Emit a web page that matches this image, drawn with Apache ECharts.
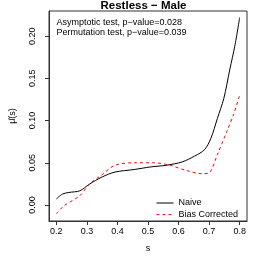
<!DOCTYPE html>
<html>
<head>
<meta charset="utf-8">
<script src="https://cdn.jsdelivr.net/npm/echarts@6/dist/echarts.min.js"></script>
<style>html,body{margin:0;padding:0;background:#fff}#c{width:258px;height:258px}</style>
</head>
<body>
<div id="c"></div>
<script>
var titleText = 'Restless \u2212 Male';
var notes = ['Asymptotic test, p\u2212value=0.028', 'Permutation test, p\u2212value=0.039'];
var xTicks = [0.2, 0.3, 0.4, 0.5, 0.6, 0.7, 0.8];
var yTicks = [0.00, 0.05, 0.10, 0.15, 0.20];
var naiveS = [0.200, 0.220, 0.241, 0.277, 0.308, 0.350, 0.392, 0.455, 0.507, 0.559, 0.612, 0.653, 0.685, 0.706, 0.727, 0.748, 0.768, 0.784, 0.800];
var naiveV = [0.007, 0.0129, 0.0148, 0.0168, 0.0246, 0.0332, 0.039, 0.042, 0.045, 0.047, 0.051, 0.058, 0.0655, 0.079, 0.1025, 0.126, 0.161, 0.188, 0.222];
var biasS = [0.200, 0.225, 0.277, 0.308, 0.350, 0.392, 0.455, 0.520, 0.572, 0.624, 0.677, 0.703, 0.727, 0.758, 0.779, 0.800];
var biasV = [-0.0105, -0.001, 0.011, 0.0246, 0.036, 0.047, 0.050, 0.050, 0.047, 0.041, 0.037, 0.039, 0.0596, 0.087, 0.106, 0.130];

function pairs(a, b) { return a.map(function (v, i) { return [v, b[i]]; }); }
var FONT = 'Liberation Sans';
var chart = echarts.init(document.getElementById('c'), null, {renderer: 'canvas'});
chart.setOption({
  animation: false,
  backgroundColor: '#fff',
  textStyle: {fontFamily: FONT},
  title: {
    text: titleText, left: 143.5, textAlign: 'center', top: 0, padding: 0,
    textStyle: {fontFamily: FONT, fontSize: 11.5, fontWeight: 'bold', color: '#000'}
  },
  grid: {left: 40.7, right: 11, top: 11, bottom: 34, show: true, borderColor: '#333', borderWidth: 1, backgroundColor: 'transparent'},
  xAxis: {
    type: 'value', min: 0.176, max: 0.824,
    name: 's', nameLocation: 'middle', nameGap: 23,
    nameTextStyle: {fontFamily: FONT, fontSize: 9, color: '#000'},
    axisLine: {show: true, onZero: false, lineStyle: {color: '#333', width: 1}},
    axisTick: {show: true, length: 4, customValues: xTicks, lineStyle: {color: '#333'}},
    axisLabel: {customValues: xTicks, margin: 6, fontFamily: FONT, fontSize: 9, color: '#000',
      formatter: function (v) { return v.toFixed(1); }},
    splitLine: {show: false}
  },
  yAxis: {
    type: 'value', min: -0.019, max: 0.2298,
    name: '\u03bc\u0302(s)', nameLocation: 'middle', nameGap: 32, nameRotate: 90,
    nameTextStyle: {fontFamily: FONT, fontSize: 9, color: '#000'},
    axisLine: {show: true, onZero: false, lineStyle: {color: '#333', width: 1}},
    axisTick: {show: true, length: 4, customValues: yTicks, lineStyle: {color: '#333'}},
    axisLabel: {customValues: yTicks, rotate: 90, margin: 12, fontFamily: FONT, fontSize: 9, color: '#000',
      formatter: function (v) { return v.toFixed(2); }},
    splitLine: {show: false}
  },
  legend: {
    orient: 'vertical', left: 156, top: 198.5, padding: 0, itemWidth: 17, itemHeight: 8, itemGap: 2.6,
    itemStyle: {opacity: 0, borderWidth: 0},
    lineStyle: {width: 1},
    textStyle: {fontFamily: FONT, fontSize: 9, color: '#000'},
    data: ['Naive', 'Bias Corrected']
  },
  graphic: [
    {type: 'text', left: 56.5, top: 18.5, style: {text: notes[0], fontFamily: FONT, fontSize: 9, fill: '#000'}},
    {type: 'text', left: 56.5, top: 28.5, style: {text: notes[1], fontFamily: FONT, fontSize: 9, fill: '#000'}}
  ],
  series: [
    {name: 'Naive', type: 'line', data: pairs(naiveS, naiveV), smooth: 0.3, symbol: 'none',
      lineStyle: {color: '#000', width: 1}, itemStyle: {color: '#000'}},
    {name: 'Bias Corrected', type: 'line', data: pairs(biasS, biasV), smooth: 0.3, symbol: 'none',
      lineStyle: {color: '#ff0000', width: 1, type: [3, 3]}, itemStyle: {color: '#ff0000'}}
  ]
});
</script>
</body>
</html>
